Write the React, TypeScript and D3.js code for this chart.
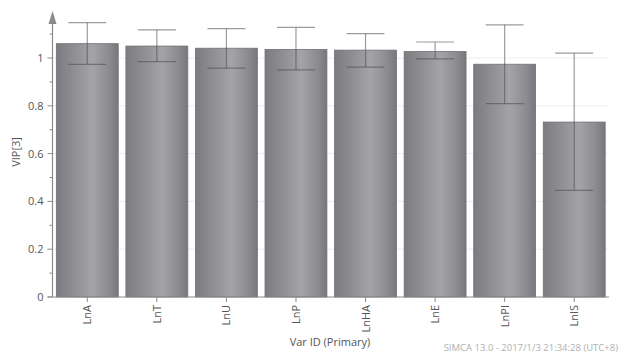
import React from "react";
import * as d3 from "d3";

const categories = ["LnA", "LnT", "LnU", "LnP", "LnHA", "LnE", "LnPI", "LnIS"];
const vipValues = [1.06, 1.05, 1.041, 1.036, 1.033, 1.027, 0.974, 0.732];
const vipUpper = [1.148, 1.118, 1.123, 1.128, 1.102, 1.067, 1.139, 1.02];
const vipLower = [0.973, 0.985, 0.958, 0.95, 0.962, 0.996, 0.809, 0.446];
const yTicks = [0, 0.2, 0.4, 0.6, 0.8, 1];
const yMinorTicks = [0.1, 0.3, 0.5, 0.7, 0.9, 1.1];

const W = 624;
const H = 354;
const left = 52.5;
const right = 609;
const y0 = 297;

export default function App() {
  const x = d3.scaleBand<string>().domain(categories).range([left, right]).paddingInner(0.11).paddingOuter(0.055);
  const y = d3.scaleLinear().domain([0, 1]).range([y0, 58]);
  const font = "'Open Sans', 'Noto Sans', sans-serif";
  const capHalf = 19;

  return (
    <svg width={W} height={H} style={{ position: "absolute", left: 0, top: 0 }}>
      <defs>
        <linearGradient id="barGrad" x1="0" x2="1" y1="0" y2="0">
          <stop offset="0" stopColor="#7c7c80" />
          <stop offset="0.3" stopColor="#909094" />
          <stop offset="0.58" stopColor="#a4a4a8" />
          <stop offset="0.85" stopColor="#8c8c90" />
          <stop offset="1" stopColor="#78787c" />
        </linearGradient>
      </defs>
      <rect width={W} height={H} fill="#ffffff" />
      {/* gridlines */}
      {yTicks.slice(1).map((t) => (
        <line key={t} x1={left} x2={right} y1={y(t)} y2={y(t)} stroke="#ececec" strokeWidth={1} />
      ))}
      {/* bars */}
      {categories.map((c, i) => (
        <rect
          key={c}
          x={x(c)!}
          y={y(vipValues[i])}
          width={x.bandwidth()}
          height={y0 - y(vipValues[i])}
          fill="url(#barGrad)"
          stroke="#727276"
          strokeWidth={0.8}
        />
      ))}
      {/* error bars */}
      {categories.map((c, i) => {
        const cx = x(c)! + x.bandwidth() / 2;
        return (
          <g key={c} stroke="#4a4a4a" strokeOpacity={0.55} strokeWidth={1.2}>
            <line x1={cx} x2={cx} y1={y(vipUpper[i])} y2={y(vipLower[i])} />
            <line x1={cx - capHalf} x2={cx + capHalf} y1={y(vipUpper[i])} y2={y(vipUpper[i])} />
            <line x1={cx - capHalf} x2={cx + capHalf} y1={y(vipLower[i])} y2={y(vipLower[i])} />
          </g>
        );
      })}
      {/* y axis */}
      <line x1={left} x2={left} y1={y0} y2={22} stroke="#8a8a8a" strokeWidth={1.2} />
      <path d={`M${left - 4},${24} L${left},${11} L${left + 4},${24} Z`} fill="#8a8a8a" />
      {yTicks.map((t) => (
        <g key={t}>
          <line x1={left - 5} x2={left} y1={y(t)} y2={y(t)} stroke="#8a8a8a" />
          <text x={left - 9} y={y(t) + 4} textAnchor="end" fontSize={11} fill="#555" fontFamily={font}>
            {d3.format("~g")(t)}
          </text>
        </g>
      ))}
      {yMinorTicks.map((t) => (
        <line key={t} x1={left - 3} x2={left} y1={y(t)} y2={y(t)} stroke="#8a8a8a" />
      ))}
      {/* x axis */}
      <line x1={left - 5} x2={right} y1={y0} y2={y0} stroke="#8a8a8a" strokeWidth={1.2} />
      {categories.map((c) => {
        const cx = x(c)! + x.bandwidth() / 2;
        return (
          <g key={c}>
            <line x1={cx} x2={cx} y1={y0} y2={y0 + 5} stroke="#8a8a8a" />
            <text
              transform={`translate(${cx + 4},${y0 + 8}) rotate(-90)`}
              textAnchor="end"
              fontSize={11}
              fill="#555"
              fontFamily={font}
            >
              {c}
            </text>
          </g>
        );
      })}
      <text transform={`translate(${20},${152}) rotate(-90)`} textAnchor="middle" fontSize={11} fill="#555" fontFamily={font}>
        VIP[3]
      </text>
      <text x={330} y={346} textAnchor="middle" fontSize={11} fill="#555" fontFamily={font}>
        Var ID (Primary)
      </text>
      <text x={618} y={351} textAnchor="end" fontSize={9.5} fill="#b0b0b0" fontFamily={font}>
        SIMCA 13.0 - 2017/1/3 21:34:28 (UTC+8)
      </text>
    </svg>
  );
}
